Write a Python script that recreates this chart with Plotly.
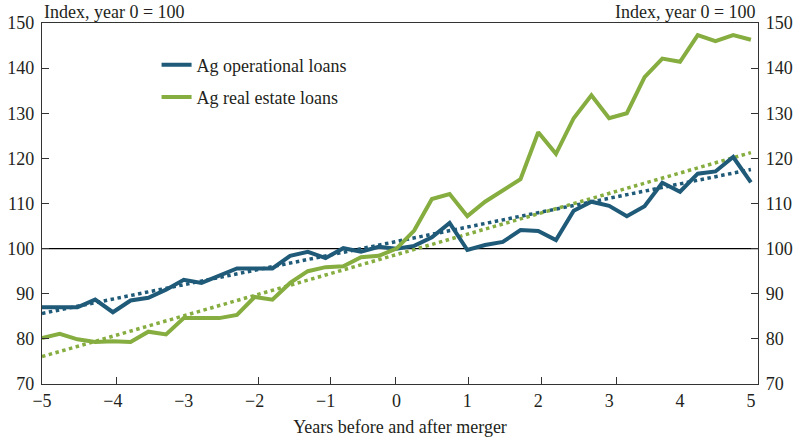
import numpy as np
import plotly.graph_objects as go

years = [-5 + 0.25 * i for i in range(41)]

ag_operational = [87.0, 87.0, 87.0, 88.7, 85.9, 88.5, 89.1, 90.9, 93.1, 92.4,
                  93.9, 95.6, 95.6, 95.6, 98.4, 99.3, 97.9, 100.1, 99.3, 100.4,
                  100.0, 100.6, 102.5, 105.7, 99.7, 100.8, 101.5, 104.1, 103.9, 101.9,
                  108.4, 110.4, 109.5, 107.2, 109.4, 114.6, 112.6, 116.6, 117.1, 120.3,
                  114.7]
ag_real_estate = [80.2, 81.1, 79.9, 79.3, 79.5, 79.3, 81.6, 81.0, 84.6, 84.6,
                  84.6, 85.3, 89.3, 88.7, 92.4, 95.0, 95.9, 96.1, 98.1, 98.4,
                  100.0, 104.0, 111.0, 112.1, 107.2, 110.4, 112.8, 115.4, 125.8, 121.0,
                  128.9, 134.0, 128.9, 130.0, 138.0, 142.1, 141.4, 147.3, 146.0, 147.3,
                  146.3]

x_tick_labels = ["\u22125", "\u22124", "\u22123", "\u22122", "\u22121", "0", "1", "2", "3", "4", "5"]
x_tick_values = [-5, -4, -3, -2, -1, 0, 1, 2, 3, 4, 5]
x_tick_marks = [-3.95, -1.95, -0.93, -0.02, 1.02, 2.05, 3.1]
y_ticks = [70, 80, 90, 100, 110, 120, 130, 140, 150]

BLUE = "#1f5a78"
GREEN = "#86ad3f"
FONT = "Liberation Serif"
FS = 18

# pre-merger trends (fitted on years <= 0) extended across the whole window
x = np.array(years)
pre = x <= 0
fit_op = np.polyval(np.polyfit(x[pre], np.array(ag_operational)[pre], 1), x)
fit_re = np.polyval(np.polyfit(x[pre], np.array(ag_real_estate)[pre], 1), x)

fig = go.Figure()
fig.add_trace(go.Scatter(x=years, y=fit_op, mode="lines", showlegend=False,
                         line=dict(color=BLUE, width=3.5, dash="dot"), hoverinfo="skip"))
fig.add_trace(go.Scatter(x=years, y=fit_re, mode="lines", showlegend=False,
                         line=dict(color=GREEN, width=3.5, dash="dot"), hoverinfo="skip"))
fig.add_trace(go.Scatter(x=years, y=ag_operational, mode="lines", name="Ag operational loans",
                         legendgroup="a", line=dict(color=BLUE, width=4)))
fig.add_trace(go.Scatter(x=years, y=ag_real_estate, mode="lines", name="Ag real estate loans",
                         legendgroup="b", line=dict(color=GREEN, width=4)))
fig.add_trace(go.Scatter(x=[years[0]], y=[ag_operational[0]], yaxis="y2", mode="lines",
                         showlegend=False, line=dict(width=0), hoverinfo="skip"))
fig.add_trace(go.Scatter(x=[years[0]], y=[ag_operational[0]], xaxis="x2", mode="lines",
                         showlegend=False, line=dict(width=0), hoverinfo="skip"))

fig.add_shape(type="line", xref="paper", x0=0, x1=1, yref="y", y0=100, y1=100,
              line=dict(color="black", width=1.3), layer="below")

fig.update_layout(
    width=797, height=440,
    margin=dict(l=42, r=39, t=23, b=56),
    paper_bgcolor="white", plot_bgcolor="white",
    font=dict(family=FONT, size=FS, color="#231f20"),
    xaxis=dict(range=[-5, 5.1], tickvals=x_tick_values, ticktext=x_tick_labels,
               ticks="", showline=True, linecolor="#333", linewidth=1.3, mirror=True,
               showgrid=False, zeroline=False, automargin=False,
               title=dict(text="Years before and after merger", standoff=10,
                          font=dict(size=FS))),
    xaxis2=dict(range=[-5, 5.1], overlaying="x", side="bottom", tickvals=x_tick_marks,
                showticklabels=False, ticks="inside", ticklen=7, tickcolor="#333",
                tickwidth=1.3, showgrid=False, zeroline=False, showline=False,
                automargin=False),
    yaxis=dict(range=[70, 150], tickvals=y_ticks, ticks="inside", ticklen=7,
               tickcolor="#333", tickwidth=1.3, showline=True, linecolor="#333",
               linewidth=1.3, showgrid=False, zeroline=False, ticklabelstandoff=3,
               automargin=False),
    yaxis2=dict(range=[70, 150], tickvals=y_ticks, overlaying="y", side="right",
                ticks="inside", ticklen=7, tickcolor="#333", tickwidth=1.3,
                showline=True, linecolor="#333", linewidth=1.3, showgrid=False,
                zeroline=False, ticklabelstandoff=3, automargin=False),
    legend=dict(x=0.16, y=0.935, xanchor="left", yanchor="top", bgcolor="rgba(0,0,0,0)",
                font=dict(size=FS), tracegroupgap=6, itemwidth=30),
    showlegend=True,
    annotations=[
        dict(text="Index, year 0 = 100", xref="paper", yref="paper", x=0, y=1,
             xanchor="left", yanchor="bottom", showarrow=False, yshift=-1,
             font=dict(size=FS)),
        dict(text="Index, year 0 = 100", xref="paper", yref="paper", x=1, y=1,
             xanchor="right", yanchor="bottom", showarrow=False, yshift=-1,
             font=dict(size=FS)),
    ],
)

# remove the browser's default 8px body margin so the figure fills the window
fig.write_html("out.html", config={"displayModeBar": False},
               post_script="document.body.style.margin='0';")
